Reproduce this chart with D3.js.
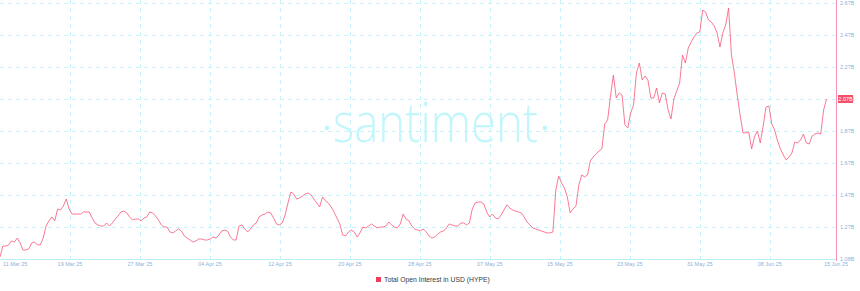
<!DOCTYPE html>
<html>
<head>
<meta charset="utf-8">
<script src="https://cdn.jsdelivr.net/npm/d3@7"></script>
<style>
  body { margin: 0; background: #fff; }
  svg { display: block; font-family: "Liberation Sans", Arial, sans-serif; }
</style>
</head>
<body>
<svg></svg>
<script>
// Open interest (billions USD), one reading every 8 hours
const startTime = new Date(2025, 2, 10, 21, 36);
const endTime = new Date(2025, 5, 15, 16, 0);
const stepHours = 8;
const oiValues = [
  1.083, 1.151, 1.151, 1.158, 1.183, 1.176, 1.201, 1.170, 1.126, 1.126,
  1.133, 1.170, 1.176, 1.158, 1.158, 1.201, 1.276, 1.308, 1.333, 1.308,
  1.383, 1.376, 1.401, 1.445, 1.383, 1.351, 1.351, 1.351, 1.351, 1.364,
  1.364, 1.364, 1.326, 1.295, 1.283, 1.276, 1.276, 1.295, 1.276, 1.295,
  1.320, 1.339, 1.364, 1.370, 1.358, 1.333, 1.314, 1.320, 1.320, 1.308,
  1.326, 1.333, 1.364, 1.358, 1.339, 1.314, 1.283, 1.270, 1.270, 1.239,
  1.233, 1.245, 1.258, 1.245, 1.214, 1.201, 1.189, 1.176, 1.183, 1.195,
  1.195, 1.189, 1.189, 1.195, 1.208, 1.201, 1.220, 1.245, 1.251, 1.245,
  1.208, 1.189, 1.189, 1.276, 1.283, 1.258, 1.239, 1.258, 1.283, 1.295,
  1.333, 1.345, 1.351, 1.364, 1.358, 1.326, 1.289, 1.283, 1.295, 1.345,
  1.420, 1.489, 1.476, 1.445, 1.451, 1.464, 1.476, 1.483, 1.470, 1.445,
  1.420, 1.395, 1.458, 1.433, 1.420, 1.395, 1.364, 1.326, 1.289, 1.220,
  1.214, 1.239, 1.251, 1.239, 1.208, 1.233, 1.270, 1.264, 1.276, 1.289,
  1.276, 1.264, 1.270, 1.270, 1.276, 1.301, 1.283, 1.270, 1.264, 1.289,
  1.351, 1.320, 1.308, 1.276, 1.258, 1.251, 1.245, 1.258, 1.239, 1.214,
  1.201, 1.208, 1.226, 1.239, 1.245, 1.264, 1.289, 1.283, 1.276, 1.276,
  1.295, 1.295, 1.283, 1.295, 1.383, 1.420, 1.426, 1.426, 1.414, 1.364,
  1.333, 1.351, 1.326, 1.320, 1.345, 1.376, 1.408, 1.389, 1.376, 1.370,
  1.364, 1.358, 1.333, 1.301, 1.283, 1.264, 1.258, 1.251, 1.245, 1.239,
  1.233, 1.233, 1.239, 1.501, 1.589, 1.545, 1.514, 1.458, 1.358, 1.383,
  1.401, 1.533, 1.595, 1.583, 1.595, 1.683, 1.708, 1.726, 1.745, 1.758,
  1.914, 1.939, 2.089, 2.220, 2.076, 2.108, 2.095, 1.908, 1.889, 1.983,
  2.033, 2.233, 2.295, 2.189, 2.214, 2.189, 2.076, 2.076, 2.139, 2.045,
  2.108, 2.101, 2.001, 1.945, 2.070, 2.120, 2.170, 2.345, 2.295, 2.389,
  2.426, 2.458, 2.483, 2.489, 2.626, 2.614, 2.564, 2.551, 2.526, 2.483,
  2.395, 2.483, 2.533, 2.639, 2.345, 2.233, 2.095, 1.970, 1.858, 1.858,
  1.864, 1.758, 1.833, 1.870, 1.795, 1.901, 2.020, 2.026, 1.914, 1.876,
  1.808, 1.758, 1.720, 1.689, 1.708, 1.733, 1.801, 1.795, 1.814, 1.851,
  1.795, 1.789, 1.839, 1.851, 1.858, 1.851, 2.001, 2.070
];

// axis ticks
const xTickTimes = [
  "2025-03-19T00:00", "2025-03-27T02:24", "2025-04-04T04:48", "2025-04-12T07:12",
  "2025-04-20T09:36", "2025-04-28T12:00", "2025-05-06T14:24", "2025-05-14T16:48",
  "2025-05-22T19:12", "2025-05-30T21:36", "2025-06-08T00:00"
];
const xTickLabels = [
  "19 Mar 25", "27 Mar 25", "04 Apr 25", "12 Apr 25", "20 Apr 25", "28 Apr 25",
  "07 May 25", "15 May 25", "23 May 25", "31 May 25", "08 Jun 25"
];
const firstLabel = "11 Mar 25";
const lastLabel = "15 Jun 25";
const yTickValues = [2.67, 2.47, 2.27, 2.07, 1.87, 1.67, 1.47, 1.27, 1.07];
const yTickLabels = ["2.67B", "2.47B", "2.27B", "2.07B", "1.87B", "1.67B", "1.47B", "1.27B", "1.08B"];
const seriesName = "Total Open Interest in USD (HYPE)";

const data = oiValues.map((v, i) => ({
  date: new Date(startTime.getTime() + i * stepHours * 3600e3),
  value: v
}));

const W = 860, H = 291;
const plot = {left: 0, right: 836, top: 3, bottom: 259};

const svg = d3.select("svg").attr("width", W).attr("height", H);

const x = d3.scaleTime()
  .domain([startTime, endTime])
  .range([plot.left, plot.right]);

const y = d3.scaleLinear()
  .domain([1.07, 2.67])
  .range([plot.bottom, plot.top]);

const gridColor = "#c4f3f9";

// horizontal grid
svg.append("g")
  .selectAll("line")
  .data(yTickValues.slice(0, -1))
  .join("line")
  .attr("x1", plot.left)
  .attr("x2", plot.right)
  .attr("y1", d => Math.round(y(d)) + 0.5)
  .attr("y2", d => Math.round(y(d)) + 0.5)
  .attr("stroke", gridColor)
  .attr("stroke-width", 1)
  .attr("stroke-dasharray", "4,4");

// vertical grid
svg.append("g")
  .selectAll("line")
  .data(xTickTimes)
  .join("line")
  .attr("x1", d => Math.round(x(new Date(d))) + 0.5)
  .attr("x2", d => Math.round(x(new Date(d))) + 0.5)
  .attr("y1", 0)
  .attr("y2", plot.bottom)
  .attr("stroke", gridColor)
  .attr("stroke-width", 1)
  .attr("stroke-dasharray", "4,4");

// watermark
const wm = svg.append("g").attr("fill", "#c3f6fb");
wm.append("text")
  .attr("x", 333)
  .attr("y", 142)
  .attr("textLength", 205)
  .attr("lengthAdjust", "spacingAndGlyphs")
  .style("font-family", "'Open Sans', sans-serif")
  .style("font-weight", 300)
  .style("font-size", "56px")
  .text("santiment");
wm.selectAll("circle")
  .data([327, 545])
  .join("circle")
  .attr("cx", d => d)
  .attr("cy", 128)
  .attr("r", 2.4);

// x axis baseline
svg.append("line")
  .attr("x1", plot.left)
  .attr("x2", plot.right)
  .attr("y1", plot.bottom + 0.5)
  .attr("y2", plot.bottom + 0.5)
  .attr("stroke", "#b8eff6");

// right axis line
svg.append("line")
  .attr("x1", plot.right + 0.5)
  .attr("x2", plot.right + 0.5)
  .attr("y1", 0)
  .attr("y2", plot.bottom + 2)
  .attr("stroke", "#f592b2")
  .attr("stroke-width", 1);

// series line
const line = d3.line()
  .x(d => x(d.date))
  .y(d => y(d.value));

svg.append("path")
  .datum(data)
  .attr("fill", "none")
  .attr("stroke", "#f6587a")
  .attr("stroke-width", 0.8)
  .attr("stroke-linejoin", "round")
  .attr("d", line);

// x labels
const labelColor = "#8fb0db";
svg.append("g")
  .selectAll("text")
  .data(xTickTimes)
  .join("text")
  .attr("x", d => x(new Date(d)))
  .attr("y", 266)
  .attr("text-anchor", "middle")
  .attr("font-size", "5.5px")
  .attr("fill", labelColor)
  .text((d, i) => xTickLabels[i]);

svg.append("text")
  .attr("x", 3)
  .attr("y", 266)
  .attr("font-size", "5.5px")
  .attr("fill", labelColor)
  .text(firstLabel);

svg.append("text")
  .attr("x", x(endTime))
  .attr("y", 266)
  .attr("text-anchor", "middle")
  .attr("font-size", "5.5px")
  .attr("fill", labelColor)
  .text(lastLabel);

// y labels (the 2.07B one sits under the last value marker)
svg.append("g")
  .selectAll("text")
  .data(yTickValues)
  .join("text")
  .attr("x", plot.right + 4)
  .attr("y", d => y(d) + 2)
  .attr("font-size", "5.5px")
  .attr("fill", labelColor)
  .text((d, i) => yTickLabels[i]);

// last value marker
const last = data[data.length - 1];
svg.append("rect")
  .attr("x", plot.right + 2)
  .attr("y", y(last.value) - 4)
  .attr("width", 15)
  .attr("height", 8)
  .attr("fill", "#f4506c");
svg.append("text")
  .attr("x", plot.right + 9.5)
  .attr("y", y(last.value) + 2)
  .attr("text-anchor", "middle")
  .attr("font-size", "5.5px")
  .attr("fill", "#fff")
  .text(last.value.toFixed(2) + "B");

// legend
const legend = svg.append("g").attr("transform", "translate(376,277)");
legend.append("rect")
  .attr("width", 5)
  .attr("height", 5)
  .attr("fill", "#f03d5e");
legend.append("text")
  .attr("x", 8)
  .attr("y", 5)
  .attr("font-size", "6.8px")
  .attr("fill", "#3a3a3a")
  .text(seriesName);
</script>
</body>
</html>
